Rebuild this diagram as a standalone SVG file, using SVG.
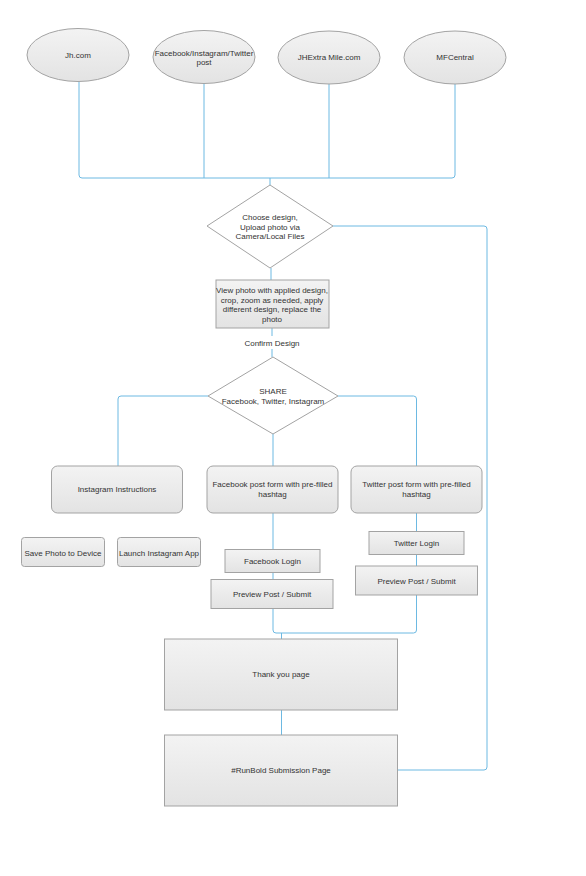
<svg xmlns="http://www.w3.org/2000/svg" width="586" height="876" viewBox="0 0 586 876">
<defs>
<linearGradient id="g" x1="0" y1="0" x2="0" y2="1">
<stop offset="0" stop-color="#f3f3f3"/>
<stop offset="1" stop-color="#e3e3e3"/>
</linearGradient>
<style>
.s{fill:url(#g);stroke:#a3a3a3;stroke-width:1}
.d{fill:#fff;stroke:#a3a3a3;stroke-width:1}
.c{fill:none;stroke:#6db9e2;stroke-width:1}
text{font-family:"Liberation Sans",Arial,sans-serif;font-size:8px;fill:#333;text-anchor:middle}
</style>
</defs>
<rect width="586" height="876" fill="#fff"/>
<g id="connectors">
<path class="c" d="M79,82 V175 Q79,178 82,178 H452 Q455,178 455,175 V84"/>
<path class="c" d="M204,84 V178 M329,84 V178 M270,178 V185"/>
<path class="c" d="M333,226 H484 Q487,226 487,229 V767 Q487,770 484,770 H398"/>
<path class="c" d="M271,268 V280"/>
<path class="c" d="M272,328 V336 M272,349 V357"/>
<path class="c" d="M208,396 H121 Q118,396 118,399 V466"/>
<path class="c" d="M338,396 H413.5 Q416.5,396 416.5,399 V466"/>
<path class="c" d="M273,434 V466 M273,513 V549.5 M273,572.5 V579.5"/>
<path class="c" d="M416.5,513 V531.5 M416.5,554.5 V566"/>
<path class="c" d="M273,608.5 V630 Q273,633 276,633 H413.5 Q416.5,633 416.5,630 V595"/>
<path class="c" d="M281.5,633 V639 M281.5,710 V735"/>
</g>
<g id="n-jh"><ellipse class="s" cx="78" cy="55" rx="51" ry="26.5"/><text x="78" y="57.5">Jh.com</text></g>
<g id="n-social"><ellipse class="s" cx="204" cy="57" rx="51" ry="26.5"/><text x="204" y="56">Facebook/Instagram/Twitter</text><text x="204" y="64.5">post</text></g>
<g id="n-jhextra"><ellipse class="s" cx="329" cy="57.5" rx="51" ry="26.5"/><text x="329" y="59.5">JHExtra Mile.com</text></g>
<g id="n-mfcentral"><ellipse class="s" cx="455" cy="57.5" rx="51" ry="26.5"/><text x="455" y="59.5">MFCentral</text></g>
<g id="n-choose"><polygon class="d" points="270,185 333,226 270,268 207,226"/><text x="270" y="219.5">Choose design,</text><text x="270" y="229.5">Upload photo via</text><text x="270" y="238.5">Camera/Local Files</text></g>
<g id="n-view"><rect class="s" x="216" y="280" width="113" height="48"/><text x="272" y="293">View photo with applied design,</text><text x="272" y="302.7">crop, zoom as needed, apply</text><text x="272" y="312.3">different design, replace the</text><text x="272" y="322">photo</text></g>
<g id="l-confirm"><text x="272" y="345.5">Confirm Design</text></g>
<g id="n-share"><polygon class="d" points="273,357 338,396 273,434 208,396"/><text x="273" y="394">SHARE</text><text x="273" y="403.5">Facebook, Twitter, Instagram</text></g>
<g id="n-insta"><rect class="s" x="51.5" y="466" width="131" height="47" rx="6"/><text x="117" y="492">Instagram Instructions</text></g>
<g id="n-fbform"><rect class="s" x="207" y="466" width="131" height="47" rx="6"/><text x="272.5" y="487.3">Facebook post form with pre-filled</text><text x="272.5" y="497">hashtag</text></g>
<g id="n-twform"><rect class="s" x="351" y="466" width="131" height="47" rx="6"/><text x="416.5" y="487.3">Twitter post form with pre-filled</text><text x="416.5" y="497">hashtag</text></g>
<g id="n-save"><rect class="s" x="21.5" y="537.5" width="83" height="29" rx="3"/><text x="63" y="555.5">Save Photo to Device</text></g>
<g id="n-launch"><rect class="s" x="117.5" y="537.5" width="83" height="29" rx="3"/><text x="159" y="555.5">Launch Instagram App</text></g>
<g id="n-fblogin"><rect class="s" x="225" y="549.5" width="95" height="23"/><text x="272.5" y="564">Facebook Login</text></g>
<g id="n-fbpreview"><rect class="s" x="211" y="579.5" width="122" height="29"/><text x="272" y="597">Preview Post / Submit</text></g>
<g id="n-twlogin"><rect class="s" x="369" y="531.5" width="95" height="23"/><text x="416.5" y="546">Twitter Login</text></g>
<g id="n-twpreview"><rect class="s" x="355.5" y="566" width="122" height="29"/><text x="416.5" y="584">Preview Post / Submit</text></g>
<g id="n-thanks"><rect class="s" x="164.5" y="639" width="233" height="71"/><text x="281" y="677">Thank you page</text></g>
<g id="n-runbold"><rect class="s" x="164.5" y="735" width="233" height="71"/><text x="281" y="773">#RunBold Submission Page</text></g>
</svg>
